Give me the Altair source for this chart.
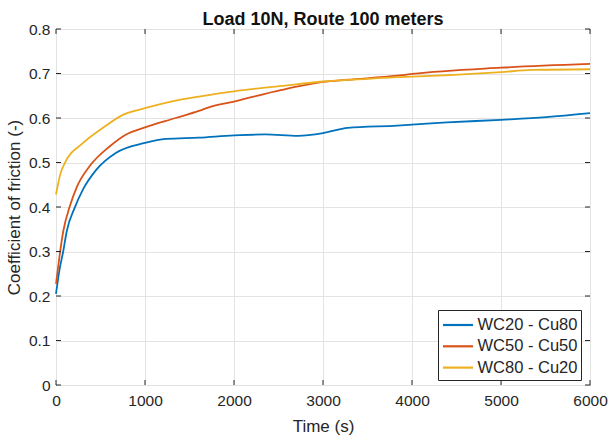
import altair as alt
import pandas as pd

# Friction coefficient traces, time in seconds
t_wc20 = [0, 40, 81, 120, 212, 305, 454, 676, 1000, 1234, 1605, 2000, 2348,
          2720, 3000, 3278, 3835, 4000, 4393, 5000, 5507, 6000]
cof_wc20 = [0.205, 0.26, 0.30, 0.345, 0.399, 0.440, 0.484, 0.522, 0.544, 0.553,
            0.556, 0.561, 0.563, 0.560, 0.566, 0.578, 0.583, 0.585, 0.590, 0.596,
            0.602, 0.611]

t_wc50 = [0, 40, 81, 156, 230, 379, 602, 788, 1000, 1345, 1605, 1717, 2000, 2535,
          2720, 3000, 3278, 3835, 4000, 5000, 6000]
cof_wc50 = [0.227, 0.29, 0.345, 0.402, 0.443, 0.492, 0.536, 0.563, 0.579, 0.600,
            0.616, 0.624, 0.637, 0.663, 0.671, 0.681, 0.686, 0.695, 0.699, 0.713,
            0.7215]

t_wc80 = [0, 50, 100, 305, 528, 751, 1000, 1345, 1605, 2000, 2535, 3000, 3500,
          3835, 4000, 5000, 5340, 6000]
cof_wc80 = [0.428, 0.475, 0.499, 0.544, 0.578, 0.607, 0.622, 0.639, 0.648, 0.660,
            0.672, 0.682, 0.688, 0.692, 0.693, 0.703, 0.708, 0.7096]

series_names = ["WC20 - Cu80", "WC50 - Cu50", "WC80 - Cu20"]
series_colors = ["#0072BD", "#D95319", "#EDB120"]

x_ticks = [0, 1000, 2000, 3000, 4000, 5000, 6000]
y_ticks = [0, 0.1, 0.2, 0.3, 0.4, 0.5, 0.6, 0.7, 0.8]

rows = []
for name, ts, vs in zip(series_names, [t_wc20, t_wc50, t_wc80],
                        [cof_wc20, cof_wc50, cof_wc80]):
    for t, v in zip(ts, vs):
        rows.append({"time": t, "cof": v, "material": name})
df = pd.DataFrame(rows)

W, H = 534, 356
TEXT = "#262626"
FONT = "Liberation Sans"

x_scale = alt.Scale(domain=[0, 6000], nice=False)
y_scale = alt.Scale(domain=[0, 0.8], nice=False)

lines = alt.Chart(df).mark_line(strokeWidth=1.8, interpolate="monotone").encode(
    x=alt.X("time:Q", scale=x_scale, title="Time (s)",
            axis=alt.Axis(values=x_ticks, format="d")),
    y=alt.Y("cof:Q", scale=y_scale, title="Coefficient of friction (-)",
            axis=alt.Axis(values=y_ticks, format="~g")),
    color=alt.Color("material:N",
                    scale=alt.Scale(domain=series_names, range=series_colors),
                    legend=alt.Legend(title=None, orient="none",
                                      legendX=382, legendY=281,
                                      # wide horizontal stroke, short row height
                                      symbolType="M-1.5,0H1.5", symbolSize=400,
                                      symbolOffset=5,
                                      symbolStrokeWidth=2.2,
                                      labelFontSize=16.5, labelColor=TEXT,
                                      labelFont=FONT,
                                      labelOffset=8, rowPadding=1.3,
                                      padding=3.5, strokeColor=TEXT,
                                      fillColor="white")),
)

# Inward tick marks on all four sides of the box
xt = pd.DataFrame({"v": x_ticks})
yt = pd.DataFrame({"v": y_ticks})
tick_style = dict(color=TEXT, strokeWidth=1)
x_bottom = alt.Chart(xt).mark_rule(**tick_style).encode(
    x=alt.X("v:Q", scale=x_scale), y=alt.value(H), y2=alt.value(H - 5))
x_top = alt.Chart(xt).mark_rule(**tick_style).encode(
    x=alt.X("v:Q", scale=x_scale), y=alt.value(0), y2=alt.value(5))
y_left = alt.Chart(yt).mark_rule(**tick_style).encode(
    y=alt.Y("v:Q", scale=y_scale), x=alt.value(0), x2=alt.value(5))
y_right = alt.Chart(yt).mark_rule(**tick_style).encode(
    y=alt.Y("v:Q", scale=y_scale), x=alt.value(W), x2=alt.value(W - 5))

chart = alt.layer(lines, x_bottom, x_top, y_left, y_right).properties(
    width=W, height=H,
    title=alt.TitleParams("Load 10N, Route 100 meters", fontSize=18,
                          fontWeight="bold", font=FONT,
                          color="#111111", anchor="middle", offset=-7),
    autosize=alt.AutoSizeParams(type="none"),
    padding={"left": 56, "top": 29, "right": 20, "bottom": 53},
).configure_view(
    stroke=TEXT, strokeWidth=1
).configure_axis(
    grid=True, gridColor="#e3e3e3", gridWidth=1,
    domain=False, ticks=False, labelFlush=False,
    labelFont=FONT, labelFontSize=15.5, labelColor=TEXT,
    titleFont=FONT, titleFontSize=17, titleColor=TEXT,
    titleFontWeight="normal",
).configure_axisX(
    labelPadding=8, titlePadding=10
).configure_axisY(
    labelPadding=6, titlePadding=5
)

chart.save("out.html", embed_options={"renderer": "svg", "actions": False})
